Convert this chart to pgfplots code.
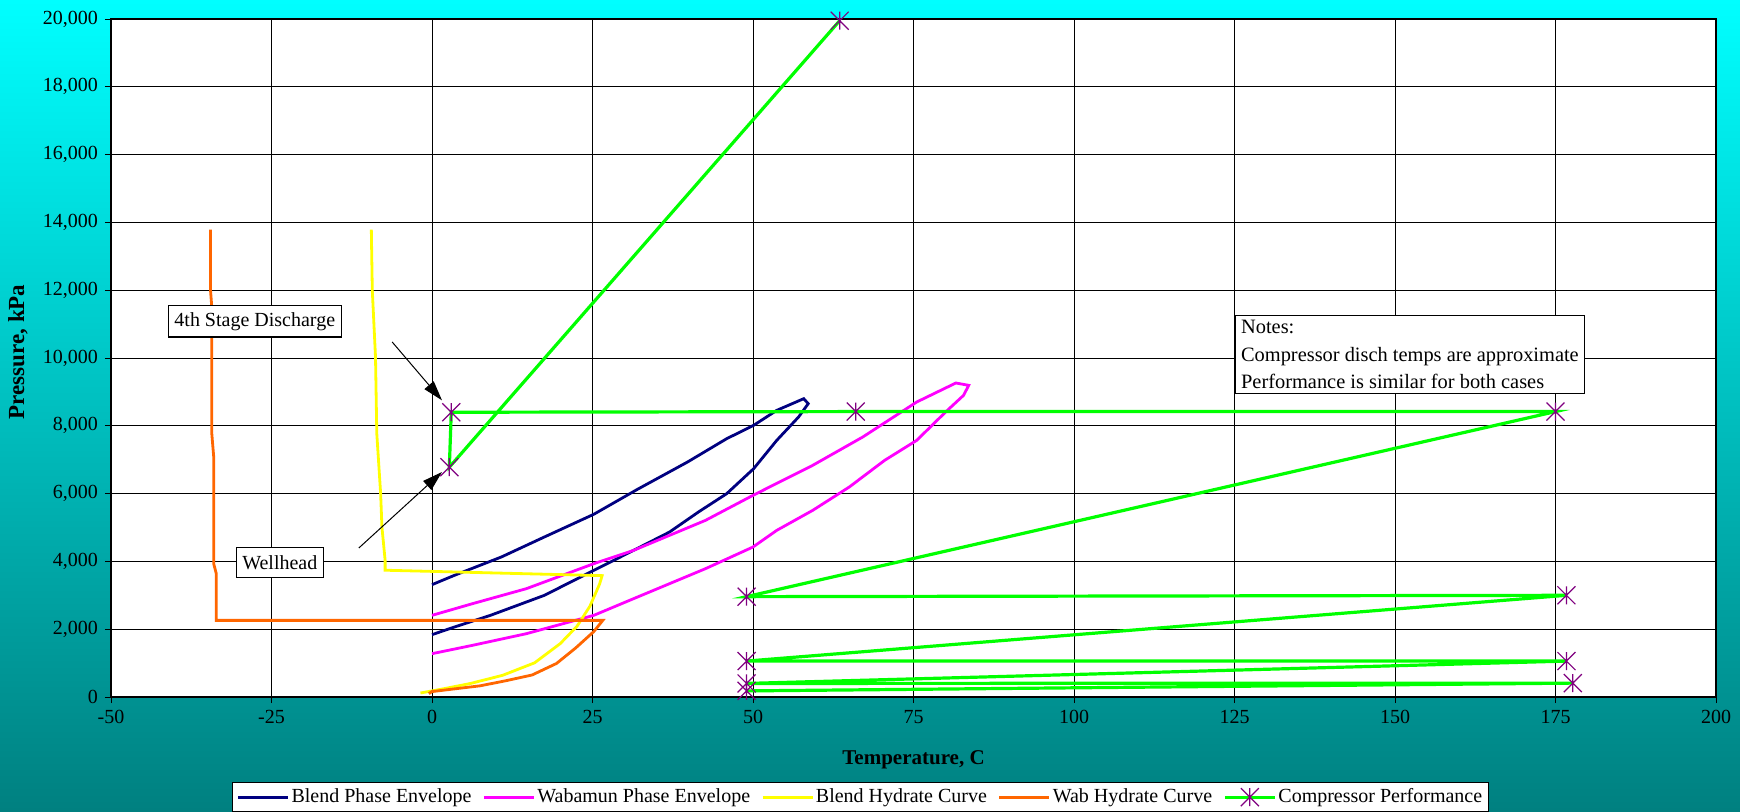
\documentclass[border=0pt]{standalone}
\usepackage{pgfplots}
\pgfplotsset{compat=1.18}
\usepackage{pgfplotstable}
\usepackage{fontspec}
\setmainfont{Liberation Serif}
\usetikzlibrary{arrows.meta}

\definecolor{bgtop}{RGB}{0,255,255}
\definecolor{bgbot}{RGB}{0,128,128}
\definecolor{envblend}{RGB}{0,0,128}
\definecolor{envwab}{RGB}{255,0,255}
\definecolor{hydblend}{RGB}{255,255,0}
\definecolor{hydwab}{RGB}{255,102,0}
\definecolor{comp}{RGB}{0,255,0}
\definecolor{compmark}{RGB}{128,0,128}

% X with a vertical bar
\pgfdeclareplotmark{xstar}{%
  \pgfpathmoveto{\pgfqpoint{-\pgfplotmarksize}{-\pgfplotmarksize}}%
  \pgfpathlineto{\pgfqpoint{\pgfplotmarksize}{\pgfplotmarksize}}%
  \pgfpathmoveto{\pgfqpoint{-\pgfplotmarksize}{\pgfplotmarksize}}%
  \pgfpathlineto{\pgfqpoint{\pgfplotmarksize}{-\pgfplotmarksize}}%
  \pgfpathmoveto{\pgfqpoint{0pt}{-\pgfplotmarksize}}%
  \pgfpathlineto{\pgfqpoint{0pt}{\pgfplotmarksize}}%
  \pgfusepathqstroke}

% Temperature (C), pressure (kPa)
\pgfplotstableread{
T P
0 3314
3.5 3590
10.8 4130
17.5 4720
25.2 5390
32.0 6126
39.8 6932
45.9 7620
50.1 8014
53.7 8456
57.9 8800
58.6 8653
57.1 8260
53.7 7571
50.1 6735
45.9 5998
41.5 5457
37.0 4867
31.4 4326
25.2 3736
17.5 2999
9.1 2409
3.5 2065
0 1839
}\blendenv

\pgfplotstableread{
T P
0 2409
6.3 2753
14.7 3196
25.2 3933
31.4 4326
42.6 5211
50.0 5949
59.3 6834
67.1 7670
75.5 8702
81.6 9263
83.6 9194
82.8 8900
80.0 8407
75.5 7571
70.5 6981
65.0 6195
59.3 5506
53.7 4916
50.0 4425
42.6 3786
31.4 2901
25.2 2409
14.7 1868
6.3 1524
0 1278
}\wabenv

\pgfplotstableread{
T P
-9.45 13786
-9.3 12000
-8.8 10030
-8.6 7770
-8.0 6000
-7.8 5015
-7.3 4030
-7.3 3740
26.5 3580
26.1 3330
24.6 2680
22.6 2090
20.0 1580
16.0 1010
11.0 640
6.0 400
2.0 250
0 180
-1.8 118
}\blendhyd

\pgfplotstableread{
T P
-34.5 13786
-34.5 12000
-34.3 11500
-34.3 7770
-34.0 7080
-34.0 3930
-33.6 3640
-33.6 2260
26.6 2260
25.2 1930
22.4 1450
19.4 990
15.6 650
11.5 480
7.5 330
3.5 240
0 160
-0.5 100
}\wabhyd

\pgfplotstableread{
T P
49.0 180
177.7 410
49.0 400
176.7 1060
49.0 1060
176.7 3000
49.0 2960
175.0 8420
66.0 8420
3.0 8400
2.7 6780
63.5 19950
}\compressor

\begin{document}
\begin{tikzpicture}
\useasboundingbox (0,0) rectangle (870pt,405.5pt);
\clip (0,0) rectangle (870pt,405.5pt);
\shade[top color=bgtop, bottom color=bgbot] (0,0) rectangle (870pt,405.5pt);
\begin{axis}[
  at={(55.5pt,57pt)}, anchor=south west,
  width=802.5pt, height=339pt, scale only axis,
  xmin=-50, xmax=200, ymin=0, ymax=20000,
  xtick={-50,-25,...,200}, ytick={0,2000,...,20000},
  xtick pos=left, ytick pos=left,
  scaled y ticks=false,
  /pgf/number format/1000 sep={,},
  /pgf/number format/assume math mode=true,
  ticklabel style={font=\fontsize{10}{12}\selectfont},
  grid=major, major grid style={black, line width=0.5pt},
  axis line style={black, line width=1.2pt},
  tick align=outside, major tick length=3pt,
  tick style={black, line width=0.5pt},
  axis background/.style={fill=white},
  clip=false,
  xlabel={\textbf{Temperature, C}},
  ylabel={\textbf{Pressure, kPa}},
  xlabel style={font=\fontsize{10.5}{12}\selectfont,
    at={(axis description cs:0.5,-0.0929)}, anchor=center},
  ylabel style={font=\fontsize{11.5}{12}\selectfont,
    at={(axis description cs:-0.058,0.509)}, anchor=center},
  every axis plot/.append style={line width=1.4pt},
  legend columns=5,
  legend image code/.code={\draw[mark repeat=2,mark phase=2,#1] plot coordinates {(0pt,0pt) (12.5pt,0pt) (25pt,0pt)};},
  legend style={at={(0.467,-0.1254)}, anchor=north, draw=black, fill=white,
    line width=0.6pt, font=\fontsize{10}{12}\selectfont,
    inner xsep=2pt, inner ysep=2pt, nodes={inner sep=1pt},
    /tikz/every even column/.append style={column sep=4.5pt}},
]
\addplot[color=envblend] table[x=T,y=P] {\blendenv};
\addlegendentry{Blend Phase Envelope}
\addplot[color=envwab] table[x=T,y=P] {\wabenv};
\addlegendentry{Wabamun Phase Envelope}
\addplot[color=hydblend] table[x=T,y=P] {\blendhyd};
\addlegendentry{Blend Hydrate Curve}
\addplot[color=hydwab] table[x=T,y=P] {\wabhyd};
\addlegendentry{Wab Hydrate Curve}
\addplot[color=comp, line width=1.6pt, mark=xstar, mark size=4.5pt,
  mark options={draw=compmark, line width=0.6pt}] table[x=T,y=P] {\compressor};
\addlegendentry{Compressor Performance}

\node[draw=black, fill=white, line width=0.6pt, inner xsep=3pt, minimum height=15pt,
  font=\fontsize{10}{12}\selectfont] at (axis cs:-27.6,11083) {4th Stage Discharge};
\node[draw=black, fill=white, line width=0.6pt, inner xsep=3pt, minimum height=15pt,
  font=\fontsize{10}{12}\selectfont] at (axis cs:-23.7,3962) {Wellhead};
\draw[black, line width=0.5pt, -{Triangle[length=10pt,width=6pt]}]
  (axis cs:-6.2,10472) -- (axis cs:1.56,8751);
\draw[black, line width=0.5pt, -{Triangle[length=10pt,width=6pt]}]
  (axis cs:-11.4,4395) -- (axis cs:1.56,6637);
\node[draw=black, fill=white, line width=0.6pt, anchor=north west,
  inner xsep=3pt, inner ysep=2.5pt, align=left,
  font=\fontsize{10.2}{13.6}\selectfont] at (axis cs:125,11268)
  {Notes:\\Compressor disch temps are approximate\\Performance is similar for both cases};
\end{axis}
\end{tikzpicture}
\end{document}
